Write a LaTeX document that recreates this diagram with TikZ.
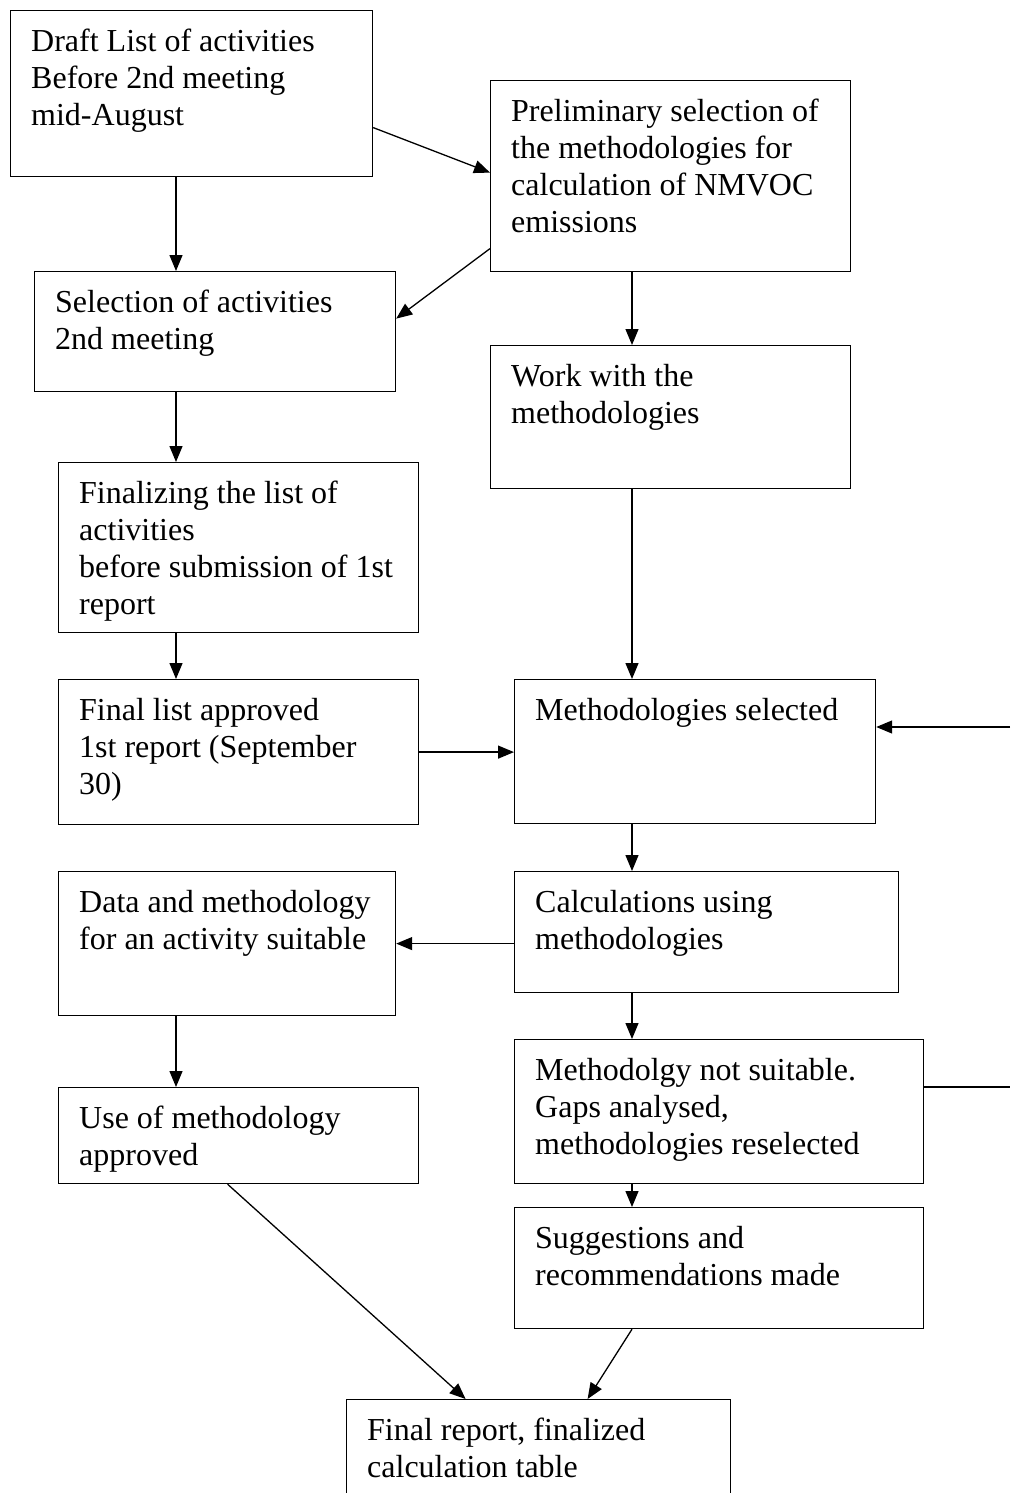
\documentclass[tikz,border=0pt]{standalone}
\usepackage{fontspec}
\setmainfont{Liberation Serif}
\usetikzlibrary{arrows.meta}

\begin{document}
\begin{tikzpicture}[x=1pt,y=-1pt,>={Triangle[length=16pt,width=13pt]},
 stage/.style={draw,line width=1.2pt,anchor=north west,inner sep=0pt},
 note/.style={anchor=north west,align=left,inner xsep=21pt,inner ysep=19pt,font=\fontsize{32}{37}\selectfont},
 line/.style={->,line width=1.3pt}]
\useasboundingbox (0,0) rectangle (1010,1493);
\node[stage,minimum width=362,minimum height=166,label={[note]north west:Draft List of activities\\Before 2nd meeting\\mid-August}] (draft) at (10,10) {};
\node[stage,minimum width=360,minimum height=191,label={[note]north west:Preliminary selection of\\the methodologies for\\calculation of NMVOC\\emissions}] (prelim) at (490,80) {};
\node[stage,minimum width=361,minimum height=120,label={[note]north west:Selection of activities\\2nd meeting}] (select) at (34,271) {};
\node[stage,minimum width=360,minimum height=143,label={[note]north west:Work with the\\methodologies}] (work) at (490,345) {};
\node[stage,minimum width=360,minimum height=170,label={[note]north west:Finalizing the list of\\activities\\before submission of 1st\\report}] (finalize) at (58,462) {};
\node[stage,minimum width=360,minimum height=145,label={[note]north west:Final list approved\\1st report (September\\30)}] (approved) at (58,679) {};
\node[stage,minimum width=361,minimum height=144,label={[note]north west:Methodologies selected}] (methsel) at (514,679) {};
\node[stage,minimum width=384,minimum height=121,label={[note]north west:Calculations using\\methodologies}] (calc) at (514,871) {};
\node[stage,minimum width=337,minimum height=144,label={[note]north west:Data and methodology\\for an activity suitable}] (suitable) at (58,871) {};
\node[stage,minimum width=409,minimum height=144,label={[note]north west:Methodolgy not suitable.\\Gaps analysed,\\methodologies reselected}] (notsuit) at (514,1039) {};
\node[stage,minimum width=360,minimum height=96,label={[note]north west:Use of methodology\\approved}] (useapp) at (58,1087) {};
\node[stage,minimum width=409,minimum height=121,label={[note]north west:Suggestions and\\recommendations made}] (suggest) at (514,1207) {};
\node[stage,minimum width=384,minimum height=150,label={[note]north west:Final report, finalized\\calculation table}] (report) at (346,1399) {};
\coordinate (leftcol) at (176,0);
\coordinate (rightcol) at (632,0);
\coordinate (loopin) at (1010,727);
\coordinate (loopout) at (1010,1087);
\draw[line] ([yshift=-34pt]draft.east) -- ([yshift=3.5pt]prelim.west);
\draw[line] ([yshift=-72.5pt]prelim.west) -- ([yshift=13pt]select.east);
\draw[line] (draft.south -| leftcol) -- (select.north -| leftcol);
\draw[line] (select.south -| leftcol) -- (finalize.north -| leftcol);
\draw[line] (finalize.south -| leftcol) -- (approved.north -| leftcol);
\draw[line] (suitable.south -| leftcol) -- (useapp.north -| leftcol);
\draw[line] (prelim.south -| rightcol) -- (work.north -| rightcol);
\draw[line] (work.south -| rightcol) -- (methsel.north -| rightcol);
\draw[line] (methsel.south -| rightcol) -- (calc.north -| rightcol);
\draw[line] (calc.south -| rightcol) -- (notsuit.north -| rightcol);
\draw[line] (notsuit.south -| rightcol) -- (suggest.north -| rightcol);
\draw[line] (approved.east) -- (approved.east -| methsel.west);
\draw[line] (loopin) -- (loopin -| methsel.east);
\draw[line] (calc.west |- suitable.east) -- (suitable.east);
\draw[line width=1.3pt] (notsuit.east |- loopout) -- (loopout);
\draw[line] ([xshift=-11pt]useapp.south) -- ([xshift=-73pt]report.north);
\draw[line] (suggest.south -| rightcol) -- ([xshift=49pt]report.north);
\end{tikzpicture}
\end{document}
